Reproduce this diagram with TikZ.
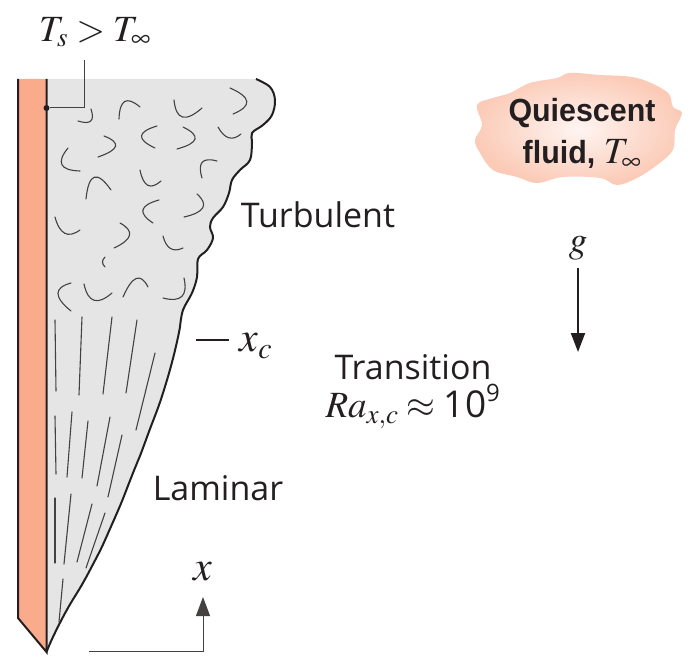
\documentclass[tikz,border=0pt]{standalone}
\usepackage{mathptmx}
\usepackage{fontspec}
\usepackage{tikz}
\usetikzlibrary{
    arrows.meta,
    calc,
    positioning
}
\newfontfamily\labelfont{Open Sans}
\newfontfamily\blobfont{Liberation Sans}[FakeStretch=0.95]
\DeclareMathSizes{37}{37}{27}{20}
\DeclareMathSizes{42}{42}{30}{22}
\definecolor{plateorange}{HTML}{F9AB8C}
\definecolor{layergray}{HTML}{E5E5E5}
\definecolor{inkblack}{HTML}{231F20}
\tikzset{lbl/.style={inner sep=0pt, text=inkblack, font=\fontsize{34}{39}\selectfont\labelfont}}
\tikzset{sym/.style={inner sep=0pt, text=inkblack, font=\fontsize{37}{40}\selectfont}}
\tikzset{bigsym/.style={inner sep=0pt, text=inkblack, font=\fontsize{42}{44}\selectfont}}
\tikzset{eddy/.style={draw=inkblack!85, line width=1.1pt, line cap=round}}
\tikzset{edge/.style={draw=inkblack, line width=2pt}}
\tikzset{leader/.style={draw=inkblack!85, line width=1pt}}

\begin{document}
\begin{tikzpicture}[x=1pt, y=-1pt]
    \useasboundingbox (0, 0) rectangle (698, 663);

    % boundary layer
    \fill[layergray] (46.5, 79) -- (256, 79)
        -- plot[smooth, tension=0.6] coordinates {(256, 79) (270, 87) (275, 100) (272, 115) (263, 125) (252, 133) (252, 143) (250, 160) (240, 170) (232, 180) (229, 193) (223, 207) (213, 218) (210, 227) (213, 238) (207, 250) (198, 259) (197, 277) (192, 293) (183, 310) (180, 327)}
        -- plot[smooth, tension=1] coordinates {(180, 327) (167, 380) (147, 437) (133, 473) (113, 522) (90, 570) (63, 617) (46.5, 652)}
        -- cycle;
    \draw[edge]
        plot[smooth, tension=0.6] coordinates {(256, 79) (270, 87) (275, 100) (272, 115) (263, 125) (252, 133) (252, 143) (250, 160) (240, 170) (232, 180) (229, 193) (223, 207) (213, 218) (210, 227) (213, 238) (207, 250) (198, 259) (197, 277) (192, 293) (183, 310) (180, 327)}
        -- plot[smooth, tension=1] coordinates {(180, 327) (167, 380) (147, 437) (133, 473) (113, 522) (90, 570) (63, 617) (46.5, 652)};

    % plate
    \draw[fill=plateorange, edge] (18, 79) -- (18, 618) -- (46.5, 652) -- (46.5, 79);

    % eddies
    \foreach \sa/\sb/\ca/\cb/\ea/\eb in {
        78/121/97/127/91/109, 119/119/120/90/140/107, 174/100/177/130/202/108,
        230/88/262/102/233/114, 157/126/127/135/155/148, 183/127/210/140/177/149,
        218/127/228/145/241/134, 104/136/130/146/98/157, 68/148/50/170/80/171,
        217/161/195/155/202/178, 140/170/145/195/161/181, 86/199/90/160/111/190,
        159/200/130/208/153/223, 197/194/215/210/184/217, 55/217/62/243/80/230,
        120/223/142/235/114/248, 163/236/168/255/183/248, 105/257/100/262/105/267,
        71/283/45/290/71/311, 84/284/90/312/112/293, 123/297/137/265/148/287,
        163/298/190/305/184/278}
        \draw[eddy] (\sa, \sb) .. controls ($(\sa, \sb)!0.667!(\ca, \cb)$) and ($(\ea, \eb)!0.667!(\ca, \cb)$) .. (\ea, \eb);

    % streaks
    \foreach \sa/\sb/\ea/\eb in {
        55/320/56/391, 82/317/79/395, 112/317/103/394, 137/320/126/393, 155/353/136/430,
        55/416/56/474, 72/412/67/477, 88/421/82/478, 110/417/97/486, 122/435/108/497,
        55/498/55/563, 71/494/64/564, 92/504/77/562, 105/513/86/568, 63/579/59/622}
        \draw[eddy] (\sa, \sb) -- (\ea, \eb);

    % labels
    \node[sym] (ts) at (95, 32) {$T_s > T_\infty$};
    \node[lbl] (turb) at (318, 215) {Turbulent};
    \node[lbl] (lam) at (218, 488) {Laminar};
    \node[lbl] (trans) at (413, 367) {Transition};
    \node[sym] (ra) at (413, 406) {$Ra_{x,c} \approx \mbox{\labelfont 10}^{\mbox{\fontsize{24}{24}\selectfont\labelfont 9}}$};
    \node[bigsym] (xc) at (256, 346) {$x_c$};
    \node[bigsym] (xlab) at (203, 572) {$x$};
    \node[sym] (glab) at (578, 248) {$g$};

    % leader
    \node[circle, fill=inkblack, inner sep=0pt, minimum size=6pt] (dot) at (46.5, 108) {};
    \coordinate (ltop) at (84, 60);
    \coordinate (lbend) at (84, 108);
    \draw[leader] (dot) -- (lbend) -- (ltop);

    % x_c tick
    \coordinate (tka) at (196, 340);
    \coordinate (tkb) at (229, 340);
    \draw[edge] (tka) -- (tkb);

    % x axis arrow
    \coordinate (xa) at (89, 651);
    \coordinate (xb) at (203, 651);
    \coordinate (xc2) at (203, 597);
    \draw[leader, -{Triangle[length=19pt, width=14pt]}] (xa) -- (xb) -- (xc2);

    % gravity
    \coordinate (ga) at (578, 268);
    \coordinate (gb) at (578, 352);
    \draw[edge, -{Triangle[length=19pt, width=14pt]}] (ga) -- (gb);

    % quiescent fluid
    \shade[inner color=plateorange!12, outer color=plateorange!62]
        plot[smooth cycle, tension=0.6] coordinates {(570, 73) (600, 75) (637, 78) (667, 92) (673, 107) (682, 113) (675, 130) (673, 150) (657, 165) (637, 178) (617, 185) (600, 178) (563, 177) (537, 183) (517, 177) (493, 170) (480, 153) (475, 140) (482, 125) (477, 105) (493, 98) (510, 93) (530, 83) (557, 78)};
    \node[inner sep=0pt, text=inkblack, font=\fontsize{32}{42}\selectfont\blobfont\bfseries, align=center] (fluid) at (582, 134) {Quiescent\\fluid, {\fontsize{37}{42}\selectfont$T_\infty$}};
\end{tikzpicture}
\end{document}
